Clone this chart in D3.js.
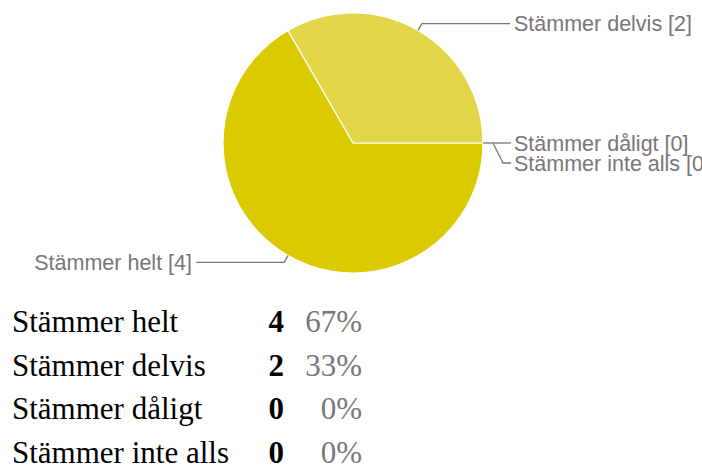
<!DOCTYPE html>
<html>
<head>
<meta charset="utf-8">
<script src="https://cdn.jsdelivr.net/npm/d3@7"></script>
<style>
  html, body { margin: 0; padding: 0; background: #fff; }
  svg { display: block; }
</style>
</head>
<body>
<svg id="chart" width="702" height="467"></svg>
<script>
const categories = ["Stämmer helt", "Stämmer delvis", "Stämmer dåligt", "Stämmer inte alls"];
const counts = [4, 2, 0, 0];
const percents = ["67%", "33%", "0%", "0%"];
const colors = ["#DCCA00", "#E2D548", "#E8DE70", "#EFE79A"];

const svg = d3.select("#chart");
const cx = 353, cy = 143, r = 130;

const pie = d3.pie().sort(null).value(d => d.v)
  .startAngle(Math.PI / 2).endAngle(Math.PI / 2 + 2 * Math.PI);
const data = categories.map((c, i) => ({ c, v: counts[i], p: percents[i], col: colors[i] }));
const arcs = pie(data);
const arc = d3.arc().innerRadius(0).outerRadius(r);

const g = svg.append("g").attr("transform", `translate(${cx},${cy})`);
g.selectAll("path.slice").data(arcs.filter(a => a.data.v > 0)).join("path")
  .attr("class", "slice")
  .attr("d", arc)
  .attr("fill", d => d.data.col)
  .attr("stroke", "#fff")
  .attr("stroke-width", 1.2);

// leader lines and labels
const pt = (ang, rad) => [Math.sin(ang) * rad, -Math.cos(ang) * rad];
const labelFont = "'Liberation Sans', Arial, Helvetica, sans-serif";
let zeroIdx = 0;
arcs.forEach(a => {
  const mid = (a.startAngle + a.endAngle) / 2;
  let pts, tx, ty, anchor;
  if (a.data.v > 0) {
    const p0 = pt(mid, r), p1 = pt(mid, r * 1.06);
    const right = p1[0] > 0;
    const xEnd = right ? 157 : -157;
    pts = [p0, p1, [xEnd, p1[1]]];
    tx = right ? xEnd + 4 : xEnd - 4;
    ty = p1[1];
    anchor = right ? "start" : "end";
  } else {
    const p0 = pt(mid, r);
    if (zeroIdx === 0) {
      pts = [p0, [158, p0[1]]];
      ty = p0[1];
    } else {
      pts = [[p0[0] + 10, p0[1]], [p0[0] + 20, p0[1] + 20], [158, p0[1] + 20]];
      ty = p0[1] + 20;
    }
    tx = 161;
    anchor = "start";
    zeroIdx++;
  }
  g.append("path")
    .attr("d", d3.line()(pts))
    .attr("fill", "none")
    .attr("stroke", "#777")
    .attr("stroke-width", 1.3);
  g.append("text")
    .attr("x", tx).attr("y", ty).attr("dy", "0.36em")
    .attr("text-anchor", anchor)
    .attr("font-family", labelFont)
    .attr("font-size", 21.5)
    .attr("fill", "#777")
    .text(`${a.data.c} [${a.data.v}]`);
});

// table below
const rowY = d3.scalePoint().domain(categories).range([332, 463]);
const serif = "'Liberation Serif', 'Times New Roman', Times, serif";
const rows = svg.append("g").selectAll("g").data(data).join("g")
  .attr("transform", d => `translate(0,${rowY(d.c)})`);
rows.append("text").attr("x", 12).attr("font-family", serif).attr("font-size", 31)
  .attr("fill", "#000").text(d => d.c);
rows.append("text").attr("x", 284).attr("text-anchor", "end").attr("font-family", serif)
  .attr("font-size", 31).attr("font-weight", "bold").attr("fill", "#000").text(d => d.v);
rows.append("text").attr("x", 362).attr("text-anchor", "end").attr("font-family", serif)
  .attr("font-size", 31).attr("fill", "#777").text(d => d.p);
</script>
</body>
</html>
